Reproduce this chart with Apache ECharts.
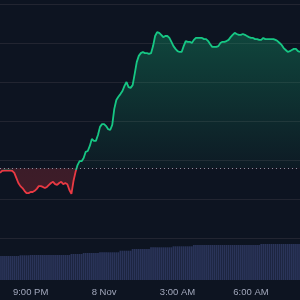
<!DOCTYPE html>
<html>
<head>
<meta charset="utf-8">
<script src="https://cdn.jsdelivr.net/npm/echarts@6/dist/echarts.min.js"></script>
<style>
html,body{margin:0;padding:0;background:#0d1421;}
#c{width:300px;height:300px;}
</style>
</head>
<body>
<div id="c"></div>
<script>
// 5-minute steps from 7:45 PM (7 Nov) to 8:00 AM (8 Nov)
var times = [];
(function(){ var m = 19*60+45; for (var i=0;i<148;i++){ var t=(m+i*5)%(24*60); var h=Math.floor(t/60), mm=t%60; times.push((h<10?'0':'')+h+':'+(mm<10?'0':'')+mm); } })();

var tickTimes  = ['21:00','00:00','03:00','06:00'];
var tickLabels = ['9:00 PM','8 Nov','3:00 AM','6:00 AM'];

var baseline = 2417.9;

var prices = [
2416.7,2417.2,2417.3,2417.3,2417.3,2417.3,2417.2,2416.7,2415.4,2414.1,
2413.3,2412.8,2412.1,2411.5,2411.5,2411.8,2411.8,2412.1,2412.6,2413.3,
2413.3,2413.1,2412.8,2413.1,2413.6,2414.1,2414.4,2413.8,2413.6,2414.1,
2414.4,2413.8,2414.1,2413.8,2412.3,2411.3,2414.6,2416.9,2418.7,2419.7,
2419.7,2420.5,2422.1,2422.3,2423.6,2425.4,2424.9,2424.9,2426.4,2428.5,
2429.2,2429.2,2428.7,2427.9,2427.7,2429.0,2433.1,2435.4,2436.2,2436.9,
2437.7,2439.0,2440.0,2438.7,2438.5,2439.2,2442.1,2445.1,2446.7,2447.4,
2447.7,2447.4,2447.4,2447.2,2447.4,2449.2,2451.8,2452.8,2452.6,2452.1,
2451.5,2451.8,2451.8,2451.3,2450.3,2449.2,2448.5,2447.9,2447.7,2447.7,
2449.2,2450.5,2450.3,2450.3,2450.0,2450.8,2451.3,2451.3,2451.3,2451.3,
2451.0,2451.0,2450.5,2449.7,2449.0,2449.0,2449.0,2449.2,2450.0,2450.3,
2450.3,2450.5,2450.8,2451.5,2452.1,2452.6,2452.3,2452.1,2452.1,2452.3,
2452.1,2451.8,2451.5,2451.3,2451.3,2451.0,2451.0,2450.8,2450.8,2451.3,
2451.0,2451.0,2451.0,2451.0,2451.0,2450.8,2450.5,2450.0,2449.5,2448.7,
2448.2,2447.7,2447.9,2448.2,2448.5,2448.5,2447.9,2447.7
];

var volumes = [
24.0,24.0,24.0,24.0,24.0,24.0,24.0,24.0,24.0,24.0,
24.7,24.7,24.7,24.7,24.7,25.0,25.0,25.0,25.0,25.0,
25.0,25.0,25.0,25.0,25.0,25.0,25.0,25.0,25.0,25.0,
25.0,25.0,25.0,25.0,25.0,26.0,26.0,26.0,26.0,26.0,
26.0,27.0,27.0,27.0,27.0,27.0,27.0,27.0,27.0,27.7,
27.7,27.7,27.7,27.7,27.7,27.7,27.7,27.7,27.7,29.3,
29.3,29.3,29.3,29.3,29.3,31.0,31.0,31.0,31.0,31.0,
31.0,31.0,31.0,31.0,32.7,32.7,32.7,32.7,32.7,32.7,
32.7,32.7,32.7,32.7,32.7,33.7,33.7,33.7,33.7,33.7,
33.7,33.7,33.7,33.7,33.7,35.0,35.0,35.0,35.0,35.0,
35.0,35.0,35.0,35.0,35.0,35.0,35.0,35.0,35.0,35.0,
35.0,35.0,35.0,35.0,35.0,35.0,35.0,35.0,35.0,35.0,
35.0,35.0,35.0,35.0,35.0,35.0,35.0,35.0,36.0,36.0,
36.0,36.0,36.0,36.0,36.0,36.0,36.0,36.0,36.0,36.0,
36.0,36.0,36.0,36.0,36.0,36.0,36.0,36.0
];

var pMax = Math.max.apply(null, prices), pMin = Math.min.apply(null, prices);
var off = (pMax - baseline) / (pMax - pMin);

var chart = echarts.init(document.getElementById('c'), null, {renderer:'canvas'});
chart.setOption({
  backgroundColor: '#0d1421',
  animation: false,
  grid: [
    {left: 0, right: 0, top: 4, bottom: 62},
    {left: 0, right: 0, top: 240, bottom: 20}
  ],
  xAxis: [
    {type:'category', gridIndex:0, data: times, boundaryGap:false, show:false},
    {type:'category', gridIndex:1, data: times, boundaryGap:false,
     axisLine:{show:false}, axisTick:{show:false}, splitLine:{show:false},
     axisLabel:{
       color:'#a1a7bb', fontSize:9.5, fontFamily:'Liberation Sans, Arial, sans-serif', margin:7,
       interval: function(i, v){ return tickTimes.indexOf(v) >= 0; },
       formatter: function(v){ var k = tickTimes.indexOf(v); return k>=0 ? tickLabels[k] : ''; }
     }}
  ],
  yAxis: [
    {type:'value', gridIndex:0, min:2400, max:2460, interval:10,
     axisLabel:{show:false}, axisLine:{show:false}, axisTick:{show:false},
     splitLine:{show:true, lineStyle:{color:'#222531', width:1}}},
    {type:'value', gridIndex:1, min:0, max:40, show:false, splitLine:{show:false}}
  ],
  series: [
    {
      type:'line', xAxisIndex:0, yAxisIndex:0, data: prices,
      showSymbol:false, symbol:'none',
      lineStyle:{
        width:1.8,
        color: new echarts.graphic.LinearGradient(0,0,0,1,[
          {offset:0, color:'#16c784'},
          {offset:off, color:'#16c784'},
          {offset:off, color:'#ea3943'},
          {offset:1, color:'#ea3943'}
        ])
      },
      areaStyle:{
        origin: baseline,
        color: new echarts.graphic.LinearGradient(0,0,0,1,[
          {offset:0, color:'rgba(22,199,132,0.40)'},
          {offset:off, color:'rgba(22,199,132,0.05)'},
          {offset:off, color:'rgba(234,57,67,0.30)'},
          {offset:1, color:'rgba(234,57,67,0.32)'}
        ])
      },
      markLine:{
        silent:true, symbol:['none','none'], label:{show:false},
        lineStyle:{color:'#8a8f9e', type:[1,3], width:1},
        data:[{yAxis: baseline}]
      },
      z:3
    },
    {
      type:'bar', xAxisIndex:1, yAxisIndex:1, data: volumes,
      barCategoryGap:'15%',
      itemStyle:{color:'#2a3459'},
      z:1
    }
  ]
});
</script>
</body>
</html>
